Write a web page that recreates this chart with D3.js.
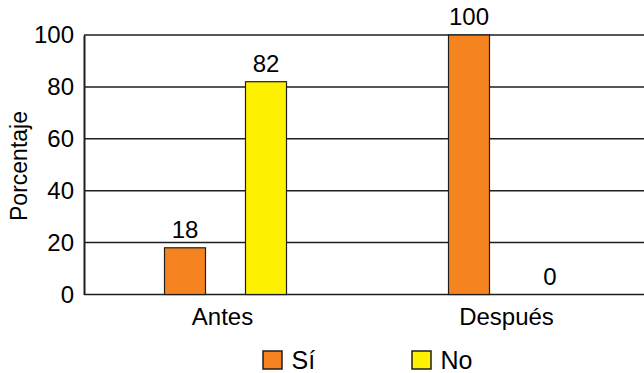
<!DOCTYPE html>
<html>
<head>
<meta charset="utf-8">
<script src="https://cdn.jsdelivr.net/npm/d3@7"></script>
<style>
  html, body { margin: 0; padding: 0; background: #fff; }
  svg { display: block; font-family: "Liberation Sans", Arial, Helvetica, sans-serif; }
</style>
</head>
<body>
<svg id="chart" width="644" height="373"></svg>
<script>
// Categories, series and values
const categories = ["Antes", "Después"];
const series = ["Sí", "No"];
const siValues = [18, 100];
const noValues = [82, 0];
const yTicks = [0, 20, 40, 60, 80, 100];
const yLabel = "Porcentaje";

const colors = { "Sí": "#F58420", "No": "#FFF200" };
const ink = "#1e1e1e";

const rows = categories.map((c, i) => ({ category: c, values: [
  { key: "Sí", value: siValues[i] },
  { key: "No", value: noValues[i] }
]}));

const svg = d3.select("#chart");
const W = 644;
const plotLeft = 84, plotTop = 35, plotBottom = 294.5;

const y = d3.scaleLinear().domain([0, 100]).range([plotBottom, plotTop]);
const x0 = d3.scaleBand().domain(categories).range([83.5, 651.5]).padding(0);
const x1 = d3.scaleBand().domain(series).range([0, x0.bandwidth()])
  .paddingInner(40 / 81).paddingOuter(1);

// Horizontal gridlines at every tick
svg.append("g").selectAll("line").data(yTicks).join("line")
  .attr("x1", plotLeft).attr("x2", W)
  .attr("y1", d => y(d)).attr("y2", d => y(d))
  .attr("stroke", ink).attr("stroke-width", 1.5);

// Left axis line and tick labels
const yAxis = d3.axisLeft(y).tickValues(yTicks).tickSize(0).tickPadding(10);
const gy = svg.append("g").attr("transform", `translate(${plotLeft},0)`).call(yAxis);
gy.select(".domain").attr("stroke", ink).attr("stroke-width", 2);
gy.selectAll("text").attr("font-size", 24).attr("fill", "#000")
  .attr("font-family", "Liberation Sans, Arial, sans-serif");

// Y axis title
svg.append("text")
  .attr("transform", `translate(27,166) rotate(-90)`)
  .attr("text-anchor", "middle")
  .attr("font-size", 23)
  .text(yLabel);

// Bars
const groups = svg.append("g").selectAll("g").data(rows).join("g")
  .attr("transform", d => `translate(${x0(d.category)},0)`);

groups.selectAll("rect").data(d => d.values).join("rect")
  .attr("x", d => x1(d.key))
  .attr("width", x1.bandwidth())
  .attr("y", d => y(d.value))
  .attr("height", d => y(0) - y(d.value))
  .attr("fill", d => colors[d.key])
  .attr("stroke", ink).attr("stroke-width", 1.2);

// Value labels above bars
groups.selectAll("text.val").data(d => d.values).join("text")
  .attr("class", "val")
  .attr("x", d => x1(d.key) + x1.bandwidth() / 2)
  .attr("y", d => y(d.value) - 10)
  .attr("text-anchor", "middle")
  .attr("font-size", 24)
  .text(d => d.value);

// Category labels
svg.append("g").selectAll("text").data(categories).join("text")
  .attr("x", d => x0(d) + x0.bandwidth() / 2 - 3)
  .attr("y", 325)
  .attr("text-anchor", "middle")
  .attr("font-size", 24)
  .text(d => d);

// Legend
const legendX = [263, 412];
const lg = svg.append("g").selectAll("g").data(series).join("g")
  .attr("transform", (d, i) => `translate(${legendX[i]},351)`);
lg.append("rect").attr("width", 19).attr("height", 18)
  .attr("fill", d => colors[d]).attr("stroke", ink).attr("stroke-width", 1.5);
lg.append("text").attr("x", 28.5).attr("y", 18)
  .attr("font-size", 25).text(d => d);
</script>
</body>
</html>
